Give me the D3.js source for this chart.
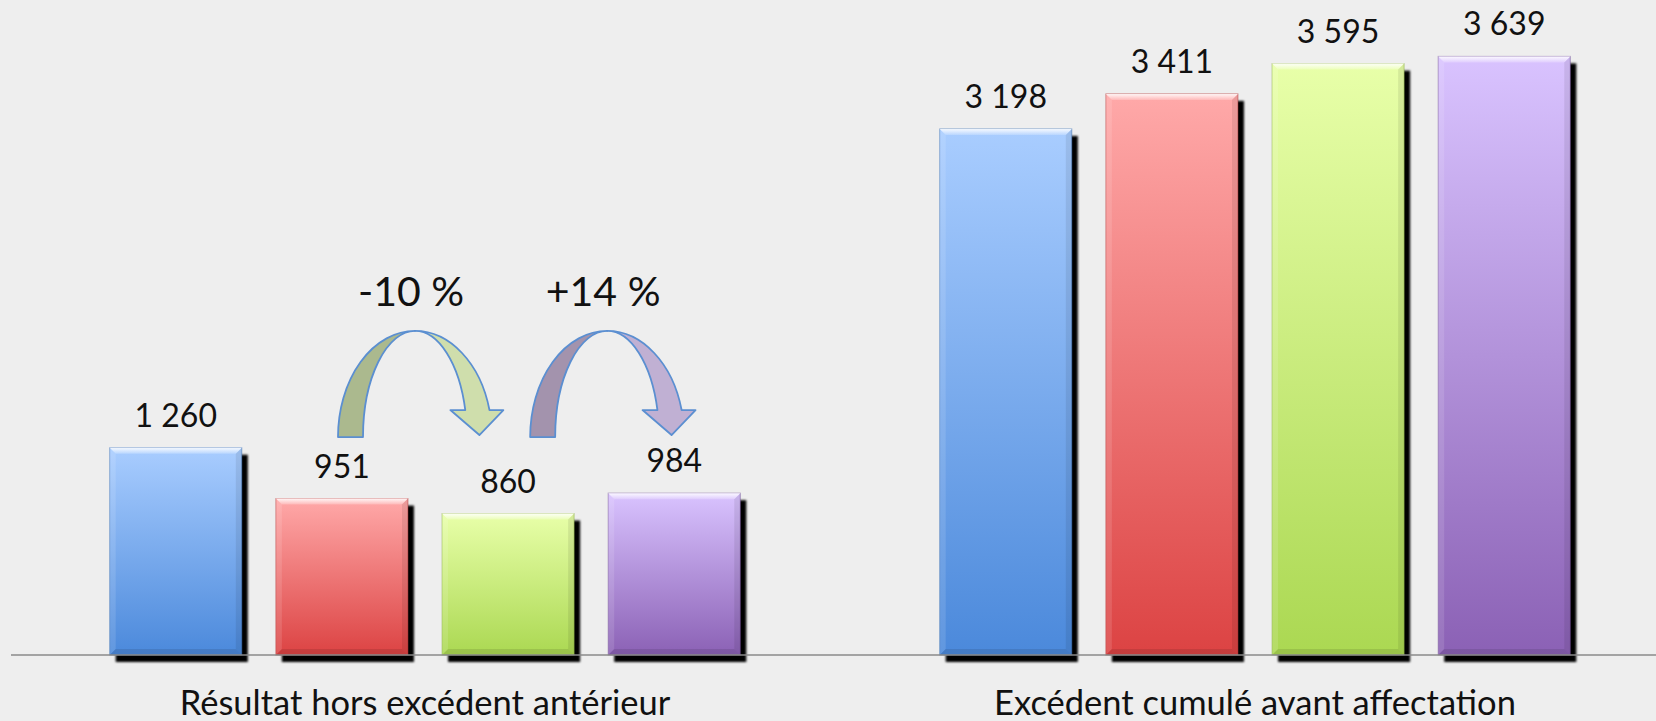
<!DOCTYPE html>
<html>
<head>
<meta charset="utf-8">
<script src="https://cdn.jsdelivr.net/npm/d3@7"></script>
<style>
  html, body { margin: 0; padding: 0; background: #eeeeee; }
  svg { display: block; }
  text { font-family: Lato, "Open Sans", sans-serif; fill: #111; }
</style>
</head>
<body>
<div id="chart"></div>
<script>
// data
const groups = ["Résultat hors excédent antérieur", "Excédent cumulé avant affectation"];
const periods = ["p1", "p2", "p3", "p4"];
const resultat = [1260, 951, 860, 984];
const excedent = [3198, 3411, 3595, 3639];
const valueLabels = [["1 260", "951", "860", "984"], ["3 198", "3 411", "3 595", "3 639"]];
const topColors = ["#a9cdff", "#ffa9a9", "#e8ffa9", "#d9c3ff"];
const bottomColors = ["#4b89db", "#dc4343", "#abd852", "#8b61b5"];
// evolution arrows between bars of the first group
const arrowFrom = [1, 2];
const arrowTo = [2, 3];
const arrowNudge = [-10, 16];
const arrowLabels = ["-10 %", "+14 %"];
const arrowBack = ["#abb98e", "#a393ad"];
const arrowFront = ["#cfdeac", "#c0b0d3"];

const width = 1656, height = 721;
const baseY = 655;

const svg = d3.select('#chart').append('svg')
    .attr('width', width)
    .attr('height', height);

svg.append('rect').attr('width', width).attr('height', height).attr('fill', '#eeeeee');

const x0 = d3.scaleBand().domain(groups).range([10, 1670]);
const x1 = d3.scaleBand().domain(periods).range([0, x0.bandwidth()])
    .paddingInner(0.205).paddingOuter(0.6);
const y = d3.scaleLinear().domain([0, 4000]).range([baseY, -3]);

const defs = svg.append('defs');
periods.forEach((p, i) => {
    const gr = defs.append('linearGradient').attr('id', 'grad' + i)
        .attr('x1', 0).attr('y1', 0).attr('x2', 0).attr('y2', 1);
    gr.append('stop').attr('offset', '0%').attr('stop-color', topColors[i]);
    gr.append('stop').attr('offset', '100%').attr('stop-color', bottomColors[i]);
});
const hl = defs.append('linearGradient').attr('id', 'hl').attr('x1', 0).attr('y1', 0).attr('x2', 0).attr('y2', 1);
hl.append('stop').attr('offset', '0%').attr('stop-color', '#fff').attr('stop-opacity', 0.9);
hl.append('stop').attr('offset', '100%').attr('stop-color', '#fff').attr('stop-opacity', 0.2);
defs.append('filter').attr('id', 'soft').append('feGaussianBlur').attr('stdDeviation', 0.8);

const series = [resultat, excedent];

const rows = [];
groups.forEach((g, gi) => {
    periods.forEach((p, pi) => {
        rows.push({ g, gi, p, pi, value: series[gi][pi], label: valueLabels[gi][pi] });
    });
});

const bar = svg.append('g').selectAll('g.bar')
    .data(rows)
    .join('g')
    .attr('class', 'bar')
    .attr('transform', d => `translate(${x0(d.g) + x1(d.p)},0)`);

const bw = x1.bandwidth();
const bev = 6;

// shadow
bar.append('rect')
    .attr('x', 6).attr('y', d => y(d.value) + 7)
    .attr('width', bw).attr('height', d => baseY - y(d.value))
    .attr('fill', '#000')
    .attr('filter', 'url(#soft)');

bar.append('rect')
    .attr('y', d => y(d.value))
    .attr('width', bw).attr('height', d => baseY - y(d.value))
    .attr('fill', d => `url(#grad${d.pi})`)
    .attr('stroke', d => d3.color(bottomColors[d.pi]).darker(0.6))
    .attr('stroke-opacity', 0.5)
    .attr('stroke-width', 1);

// top bevel
bar.append('path')
    .attr('d', d => {
        const t = y(d.value);
        return `M0,${t} L${bw},${t} L${bw - bev},${t + bev} L${bev},${t + bev} Z`;
    })
    .attr('fill', 'url(#hl)');

// side bevels
bar.append('path')
    .attr('d', d => {
        const t = y(d.value);
        return `M0,${t} L${bev},${t + bev} L${bev},${baseY - bev} L0,${baseY} Z`;
    })
    .attr('fill', '#fff').attr('opacity', 0.12);
bar.append('path')
    .attr('d', d => {
        const t = y(d.value);
        return `M${bw},${t} L${bw - bev},${t + bev} L${bw - bev},${baseY - bev} L${bw},${baseY} Z`;
    })
    .attr('fill', '#000').attr('opacity', 0.08);
bar.append('path')
    .attr('d', `M0,${baseY} L${bev},${baseY - bev} L${bw - bev},${baseY - bev} L${bw},${baseY} Z`)
    .attr('fill', '#000').attr('opacity', 0.1);

bar.append('text')
    .attr('x', bw / 2)
    .attr('y', d => y(d.value) - 21)
    .attr('text-anchor', 'middle')
    .style('font-size', '32px')
    .text(d => d.label);

// baseline
svg.append('line')
    .attr('x1', 11).attr('x2', width)
    .attr('y1', baseY).attr('y2', baseY)
    .attr('stroke', '#8a8a8a').attr('stroke-width', 1.5);

// category labels
svg.append('g').selectAll('text')
    .data(groups)
    .join('text')
    .attr('x', d => x0(d) + x0.bandwidth() / 2)
    .attr('y', 715)
    .attr('text-anchor', 'middle')
    .style('font-size', '34.5px')
    .text(d => d);

// curved arrows
const footY = y(1325);
const ro = 77, ri = 52, ry = footY - y(1970);
const headY = footY - 27;
const arrows = svg.append('g');
arrowFrom.forEach((f, i) => {
    const g0 = groups[0];
    const xa = x0(g0) + x1(periods[f]) + bw / 2;
    const xb = x0(g0) + x1(periods[arrowTo[i]]) + bw / 2;
    const cx = (xa + xb) / 2 + arrowNudge[i];
    const top = footY - ry;
    const k = Math.sqrt(1 - Math.pow((footY - headY) / ry, 2));
    const g = arrows.append('g');
    // back (left) half
    g.append('path')
        .attr('d', `M${cx - ro},${footY} A${ro},${ry} 0 0 1 ${cx},${top} A${ri},${ry} 0 0 0 ${cx - ri},${footY} Z`)
        .attr('fill', arrowBack[i])
        .attr('stroke', '#5b8fd1').attr('stroke-width', 1.8).attr('stroke-linejoin', 'round');
    // front (right) half with head
    const xo = cx + ro * k, xi = cx + ri * k, mid = (xo + xi) / 2;
    g.append('path')
        .attr('d', `M${cx},${top} A${ro},${ry} 0 0 1 ${xo},${headY} L${mid + 26},${headY} L${mid + 2},${footY - 2} L${mid - 27},${headY} L${xi},${headY} A${ri},${ry} 0 0 0 ${cx},${top} Z`)
        .attr('fill', arrowFront[i])
        .attr('stroke', '#5b8fd1').attr('stroke-width', 1.8).attr('stroke-linejoin', 'round');
    arrows.append('text')
        .attr('x', cx - 4)
        .attr('y', 306)
        .attr('text-anchor', 'middle')
        .style('font-size', '41px')
        .text(arrowLabels[i]);
});
</script>
</body>
</html>
